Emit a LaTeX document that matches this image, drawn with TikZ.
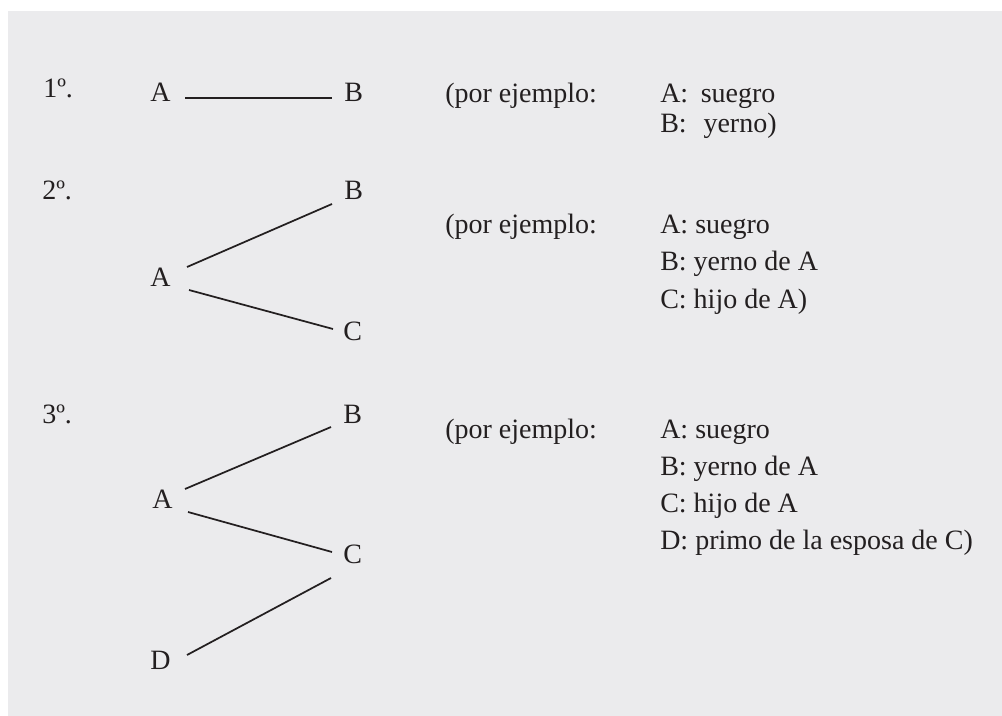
\documentclass[tikz,border=0pt]{standalone}
\usepackage{fontspec}
\setmainfont{Liberation Serif}
\usetikzlibrary{calc}
\definecolor{bggray}{HTML}{EBEBED}
\definecolor{ink}{HTML}{231F20}
\begin{document}
\begin{tikzpicture}[x=0.75pt,y=-0.75pt,
  txt/.style={anchor=base west,inner sep=0pt,text=ink,font=\fontsize{21}{25}\selectfont},
  link/.style={draw=ink,line width=1.3pt}]
\useasboundingbox (0,0) rectangle (1002,716);
\fill[bggray] (8,11) rectangle (1002,716);
% row 1
\node[txt] (n1) at (43,98) {1º.};
\node[txt] (a1) at (150,102) {A};
\node[txt] (b1) at (344,102) {B};
\draw[link] ($(a1.base west)+(35,-4)$) -- ($(b1.base west)+(-12,-4)$);
\node[txt] (p1) at (445,103) {(por ejemplo:};
\node[txt] (p1a) at (660,103) {A:\hspace{0.45em}suegro};
\node[txt] (p1b) at (660,133) {B:\hspace{0.6em}yerno)};
% row 2
\node[txt] (n2) at (42,200) {2º.};
\node[txt] (b2) at (344,200) {B};
\node[txt] (a2) at (150,287) {A};
\node[txt] (c2) at (343,340) {C};
\draw[link] ($(a2.base west)+(37,-20)$) -- ($(b2.base west)+(-12,4)$);
\draw[link] ($(a2.base west)+(39,3)$) -- ($(c2.base west)+(-10,-11)$);
\node[txt] (p2) at (445,234) {(por ejemplo:};
\node[txt] (p2a) at (660,234) {A: suegro};
\node[txt] (p2b) at (660,271) {B: yerno de A};
\node[txt] (p2c) at (660,309) {C: hijo de A)};
% row 3
\node[txt] (n3) at (42,423) {3º.};
\node[txt] (b3) at (343,423) {B};
\node[txt] (a3) at (152,508) {A};
\node[txt] (c3) at (343,563) {C};
\node[txt] (d3) at (150,669) {D};
\draw[link] ($(a3.base west)+(33,-19)$) -- ($(b3.base west)+(-12,4)$);
\draw[link] ($(a3.base west)+(36,4)$) -- ($(c3.base west)+(-11,-11)$);
\draw[link] ($(c3.base west)+(-12,15)$) -- ($(d3.base west)+(37,-14)$);
\node[txt] (p3) at (445,438) {(por ejemplo:};
\node[txt] (p3a) at (660,438) {A: suegro};
\node[txt] (p3b) at (660,475) {B: yerno de A};
\node[txt] (p3c) at (660,512) {C: hijo de A};
\node[txt] (p3d) at (660,549) {D: primo de la esposa de C)};
\end{tikzpicture}
\end{document}
